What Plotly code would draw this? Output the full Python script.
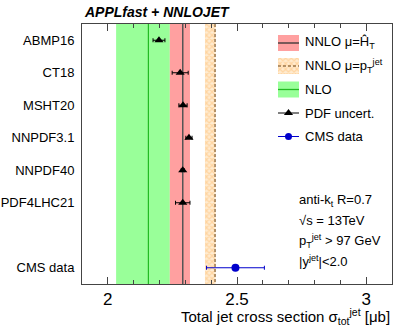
import plotly.graph_objects as go

# ---- data ----
pdf_names = ["ABMP16", "CT18", "MSHT20", "NNPDF3.1", "NNPDF40", "PDF4LHC21"]
pdf_pos = [0, 1, 2, 3, 4, 5]
pdf_xsec = [2.198, 2.280, 2.291, 2.314, 2.290, 2.290]
pdf_err = [0.023, 0.031, 0.016, 0.012, 0.006, 0.028]

cms_name = "CMS data"
cms_pos = [7]
cms_xsec = [2.494]
cms_err = [0.112]

nlo_band = [2.032, 2.240]
nlo_central = 2.157
nnlo_ht_band = [2.240, 2.318]
nnlo_ht_central = 2.290
nnlo_pt_band = [2.376, 2.417]
nnlo_pt_central = 2.415

x_range = [1.9, 3.1]
y_range = [7.5, -0.5]
x_ticks = [2, 2.5, 3]
x_tick_text = ["2", "2.5", "3"]

legend_labels = ["NNLO μ=Ĥ<sub>T</sub>", "NNLO μ=p<sub>T</sub><sup>jet</sup>", "NLO",
                 "PDF uncert.", "CMS data"]
info_lines = ["anti-k<sub>t</sub> R=0.7", "√s = 13TeV",
              "p<sub>T</sub><sup>jet</sup> > 97 GeV", "|y<sup>jet</sup>|<2.0"]

FONT = "Liberation Sans, Arial, sans-serif"
RED = "#FFA0A0"
GREEN = "#99FF99"
ORANGE = "#FFBE70"

W, H = 395, 326
ML, MR, MT, MB = 82, 3, 24, 42
PW, PH = W - ML - MR, H - MT - MB


def px(x):
    return (x - ML) / PW


def py(y):
    return 1 - (y - MT) / PH


fig = go.Figure()
shapes = []

# bands
shapes.append(dict(type="rect", xref="x", yref="paper", x0=nlo_band[0], x1=nlo_band[1],
                   y0=0, y1=1, fillcolor=GREEN, line_width=0, layer="below"))
shapes.append(dict(type="rect", xref="x", yref="paper", x0=nnlo_ht_band[0], x1=nnlo_ht_band[1],
                   y0=0, y1=1, fillcolor=RED, line_width=0, layer="below"))
shapes.append(dict(type="line", xref="x", yref="paper", x0=nlo_central, x1=nlo_central,
                   y0=0, y1=1, line=dict(color="#22BB22", width=1.2), layer="below"))
shapes.append(dict(type="line", xref="x", yref="paper", x0=nnlo_ht_central, x1=nnlo_ht_central,
                   y0=0, y1=1, line=dict(color="#555555", width=1.5), layer="below"))

pattern = dict(shape="x", fgcolor=ORANGE, bgcolor="#FFEBD0", size=4, solidity=0.5)

# patterned NNLO pT band
fig.add_trace(go.Scatter(
    x=[nnlo_pt_band[0], nnlo_pt_band[1], nnlo_pt_band[1], nnlo_pt_band[0], nnlo_pt_band[0]],
    y=[y_range[1], y_range[1], y_range[0], y_range[0], y_range[1]],
    mode="lines", fill="toself", line=dict(width=0, color=ORANGE),
    fillcolor="rgba(0,0,0,0)", fillpattern=pattern,
    hoverinfo="skip", showlegend=False))
fig.add_trace(go.Scatter(
    x=[nnlo_pt_central, nnlo_pt_central], y=[y_range[1], y_range[0]], mode="lines",
    line=dict(color="#6A4010", width=1, dash="3px,2px"), hoverinfo="skip", showlegend=False))

# PDF points
fig.add_trace(go.Scatter(
    x=pdf_xsec, y=pdf_pos, mode="markers",
    marker=dict(symbol="triangle-up", size=8, color="black"),
    error_x=dict(type="data", array=pdf_err, color="black", thickness=1, width=2),
    showlegend=False))
# CMS data
fig.add_trace(go.Scatter(
    x=cms_xsec, y=cms_pos, mode="markers",
    marker=dict(symbol="circle", size=8, color="#0000CC"),
    error_x=dict(type="data", array=cms_err, color="#0000CC", thickness=1, width=2),
    showlegend=False))

# ---- legend (manual) ----
row_y = [43, 66, 89.5, 113, 136.5]
sx0, sx1 = 278, 299
hh = 8
shapes.append(dict(type="rect", xref="paper", yref="paper", x0=px(sx0), x1=px(sx1),
                   y0=py(row_y[0] + hh), y1=py(row_y[0] - hh), fillcolor=RED, line_width=0))
shapes.append(dict(type="line", xref="paper", yref="paper", x0=px(sx0), x1=px(sx1),
                   y0=py(row_y[0]), y1=py(row_y[0]), line=dict(color="#333333", width=1.3)))
shapes.append(dict(type="rect", xref="paper", yref="paper", x0=px(sx0), x1=px(sx1),
                   y0=py(row_y[2] + hh), y1=py(row_y[2] - hh), fillcolor=GREEN, line_width=0))
shapes.append(dict(type="line", xref="paper", yref="paper", x0=px(sx0), x1=px(sx1),
                   y0=py(row_y[2]), y1=py(row_y[2]), line=dict(color="#22BB22", width=1.3)))
shapes.append(dict(type="line", xref="paper", yref="paper", x0=px(sx0), x1=px(sx1),
                   y0=py(row_y[3]), y1=py(row_y[3]), line=dict(color="black", width=1)))
shapes.append(dict(type="line", xref="paper", yref="paper", x0=px(sx0), x1=px(sx1),
                   y0=py(row_y[4]), y1=py(row_y[4]), line=dict(color="#0000CC", width=1)))

# overlay axes in domain units for legend swatch traces
lx0, lx1 = px(sx0), px(sx1)
ly0, ly1 = py(row_y[1] + hh), py(row_y[1] - hh)
fig.add_trace(go.Scatter(
    x=[lx0, lx1, lx1, lx0, lx0], y=[ly0, ly0, ly1, ly1, ly0], xaxis="x2", yaxis="y2",
    mode="lines", fill="toself", line=dict(width=0, color=ORANGE), fillcolor="rgba(0,0,0,0)",
    fillpattern=pattern, hoverinfo="skip", showlegend=False))
fig.add_trace(go.Scatter(
    x=[lx0, lx1], y=[py(row_y[1])] * 2, xaxis="x2", yaxis="y2", mode="lines",
    line=dict(color="#6A4010", width=1, dash="3px,2px"), hoverinfo="skip", showlegend=False))
fig.add_trace(go.Scatter(
    x=[(lx0 + lx1) / 2], y=[py(row_y[3])], xaxis="x2", yaxis="y2", mode="markers",
    marker=dict(symbol="triangle-up", size=8, color="black"), hoverinfo="skip", showlegend=False))
fig.add_trace(go.Scatter(
    x=[(lx0 + lx1) / 2], y=[py(row_y[4])], xaxis="x2", yaxis="y2", mode="markers",
    marker=dict(symbol="circle", size=7, color="#0000CC"), hoverinfo="skip", showlegend=False))

annotations = []
for lab, ry in zip(legend_labels, row_y):
    annotations.append(dict(xref="paper", yref="paper", x=px(303), y=py(ry), text=lab,
                            xanchor="left", yanchor="middle", showarrow=False,
                            font=dict(family=FONT, size=13, color="black")))

info_y = [200, 220, 241, 261]
for lab, iy in zip(info_lines, info_y):
    annotations.append(dict(xref="paper", yref="paper", x=px(297), y=py(iy), text=lab,
                            xanchor="left", yanchor="middle", showarrow=False,
                            font=dict(family=FONT, size=13, color="black")))

annotations.append(dict(xref="paper", yref="paper", x=1.0, y=py(316),
                        text="Total jet cross section σ<sub>tot</sub><sup>jet</sup> [μb]",
                        xanchor="right", yanchor="middle", showarrow=False,
                        font=dict(family=FONT, size=15, color="black")))
annotations.append(dict(xref="paper", yref="paper", x=0.0, y=py(12),
                        text="<b><i>APPLfast + NNLOJET</i></b>",
                        xanchor="left", yanchor="middle", showarrow=False,
                        font=dict(family=FONT, size=14, color="black")))

fig.update_layout(
    width=W, height=H,
    margin=dict(l=ML, r=MR, t=MT, b=MB, pad=0),
    plot_bgcolor="white", paper_bgcolor="white",
    shapes=shapes, annotations=annotations,
    xaxis=dict(range=x_range, tickvals=x_ticks, ticktext=x_tick_text,
               ticks="inside", ticklen=7, tickwidth=1, tickcolor="#444",
               minor=dict(dtick=0.1, ticks="inside", ticklen=4, tickcolor="#444", tickwidth=1),
               showline=True, linecolor="#444", linewidth=1, mirror="ticks",
               showgrid=False, zeroline=False, automargin=False,
               tickfont=dict(family=FONT, size=17, color="black")),
    yaxis=dict(range=y_range, tickvals=pdf_pos + cms_pos, ticktext=pdf_names + [cms_name],
               ticks="", showline=True, linecolor="#444", linewidth=1, mirror=True,
               showgrid=False, zeroline=False, ticklabelstandoff=4, automargin=False,
               tickfont=dict(family=FONT, size=13, color="black")),
    xaxis2=dict(overlaying="x", range=[0, 1], visible=False, fixedrange=True),
    yaxis2=dict(overlaying="y", range=[0, 1], visible=False, fixedrange=True),
    showlegend=False,
)

fig.write_html("out.html", config={"displayModeBar": False},
               post_script="document.body.style.margin='0px';")
